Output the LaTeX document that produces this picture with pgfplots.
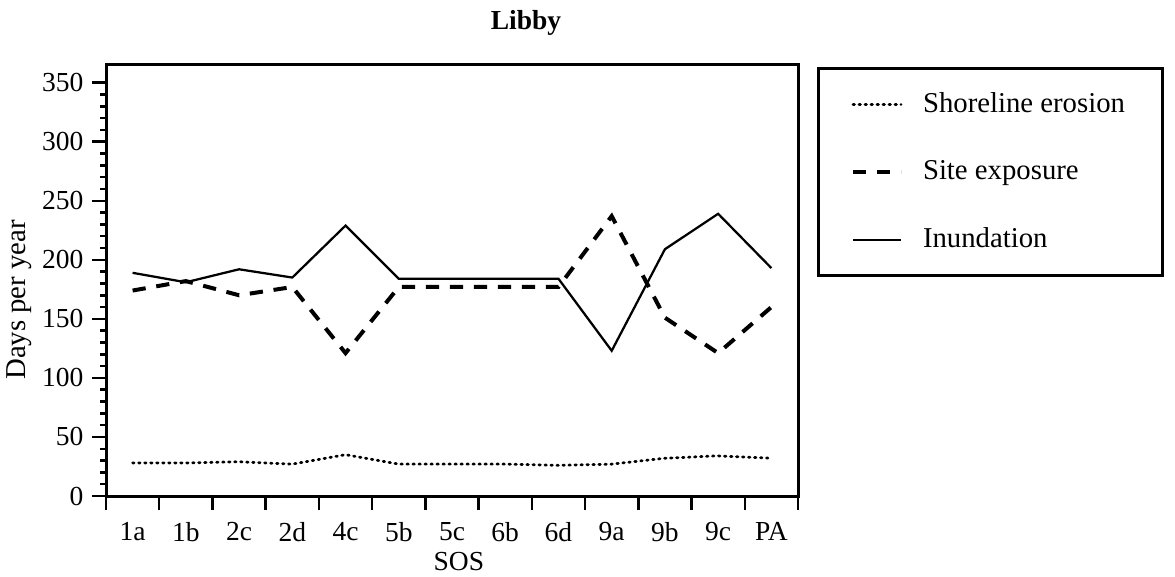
\documentclass[border=0pt]{standalone}
\usepackage{fontspec}
\setmainfont{Liberation Serif}
\usepackage{pgfplots}
\pgfplotsset{compat=1.18}
\usepackage{pgfplotstable}

\pgfplotstableread{
x shore site inund
0  28 174 189
1  28 182 181
2  29 170 192
3  27 177 185
4  35 121 229
5  27 177 184
6  27 177 184
7  27 177 184
8  26 177 184
9  27 237 123
10 32 151 209
11 34 121 239
12 32 160 193
}\datatable

\begin{document}
\begin{tikzpicture}
\path[use as bounding box] (0,0) rectangle (470pt,230.4pt);
\begin{axis}[
  scale only axis,
  width=276.8pt, height=172.4pt,
  at={(42.4pt,32pt)}, anchor=south west,
  xmin=-0.5, xmax=12.5, ymin=0, ymax=365,
  xtick={0,...,12},
  xticklabels={1a,1b,2c,2d,4c,5b,5c,6b,6d,9a,9b,9c,PA},
  major x tick style={draw=none},
  extra x ticks={-0.5,0.5,...,12.5},
  extra x tick labels={},
  extra x tick style={major x tick style={draw=black, line width=1pt}},
  ytick={0,50,...,350},
  minor y tick num=4,
  tick align=outside,
  xtick pos=left, ytick pos=left,
  major tick length=5.5pt, minor tick length=2.4pt,
  axis line style={line width=1.2pt},
  tick style={line width=1pt, black},
  /pgf/number format/assume math mode=true,
  tick label style={font=\fontsize{11}{13}\selectfont},
  xticklabel style={yshift=-1.5pt},
  title={Libby},
  title style={at={(0.607,1)}, anchor=base, yshift=8pt, font=\bfseries\fontsize{11}{13}\selectfont},
  xlabel={SOS},
  xlabel style={at={(axis description cs:0.51,0)}, anchor=center, yshift=-26.4pt, font=\fontsize{11}{13}\selectfont},
  ylabel={Days per year},
  ylabel style={at={(axis description cs:-0.1257,0.455)}, anchor=center, font=\fontsize{11.5}{13}\selectfont},
  legend style={at={(1,1)}, anchor=north west, xshift=7.6pt, yshift=-0.8pt,
    draw=black, line width=1.2pt, fill=white,
    inner xsep=13pt, inner ysep=7.6pt, row sep=13.8pt, column sep=6pt,
    font=\fontsize{11.5}{13}\selectfont,
    nodes={inner sep=2pt, text depth=0.15em}, cells={anchor=west}},
  legend cell align=left,
  legend image code/.code={\draw[#1] (0pt,0pt) -- (19.2pt,0pt);},
]
\addplot[black, line width=1.1pt, line cap=round, dash pattern=on 0.6pt off 1.8pt] table[x=x, y=shore] {\datatable};
\addlegendentry{Shoreline erosion}
\addplot[black, line width=1.6pt, dash pattern=on 5.3pt off 4.3pt] table[x=x, y=site] {\datatable};
\addlegendentry{Site exposure}
\addplot[black, line width=0.9pt] table[x=x, y=inund] {\datatable};
\addlegendentry{Inundation}
\end{axis}
\end{tikzpicture}
\end{document}
